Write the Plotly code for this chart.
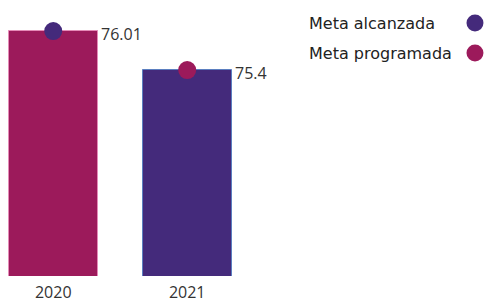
import plotly.graph_objects as go

years = ["2020", "2021"]
bar_values = [76.01, 75.4]
bar_colors = ["#9C1A5B", "#442A7B"]
bar_borders = ["#E58BB8", "#5B7FC0"]
meta_alcanzada = [76.01, None]
meta_programada = [None, 75.4]
label_texts = ["76.01", "75.4"]
legend_names = ["Meta alcanzada", "Meta programada"]
legend_colors = ["#442A7B", "#9C1A5B"]

FONT = "Open Sans"
fig = go.Figure()
fig.add_trace(go.Bar(x=[0, 1], y=bar_values, marker=dict(color=bar_colors,
                     line=dict(color=bar_borders, width=1)), width=0.664,
                     showlegend=False, hoverinfo="skip"))
fig.add_trace(go.Scatter(x=[0, 1], y=meta_alcanzada, mode="markers", name=legend_names[0],
                         marker=dict(color=legend_colors[0], size=18), showlegend=False))
fig.add_trace(go.Scatter(x=[0, 1], y=meta_programada, mode="markers", name=legend_names[1],
                         marker=dict(color=legend_colors[1], size=18), showlegend=False))

for i, (v, t) in enumerate(zip(bar_values, label_texts)):
    fig.add_annotation(x=i + 0.345, y=v, xref="x", yref="y", text=t, showarrow=False,
                       xanchor="left", yanchor="middle", yshift=-3,
                       font=dict(family=FONT, size=16, color="#333333"))

leg_y = [0.951, 0.838]
for name, col, ly in zip(legend_names, legend_colors, leg_y):
    fig.add_annotation(x=0.626, y=ly, xref="paper", yref="paper", text=name, showarrow=False,
                       xanchor="left", yanchor="middle",
                       font=dict(family="DejaVu Sans", size=16, color="#222222"))
    fig.add_shape(type="circle", xref="paper", yref="paper", x0=0.977 - 0.0177,
                  x1=0.977 + 0.0177, y0=ly - 0.032, y1=ly + 0.032,
                  fillcolor=col, line=dict(width=0))

fig.update_layout(
    width=486, height=302, margin=dict(l=7, r=0, t=10, b=26),
    paper_bgcolor="white", plot_bgcolor="white", bargap=0,
    xaxis=dict(range=[-0.345, 3.23], tickvals=[0, 1], ticktext=years, showgrid=False,
               zeroline=False, showline=False, ticks="", automargin=False,
               ticklabelstandoff=5,
               tickfont=dict(family=FONT, size=16, color="#333333")),
    yaxis=dict(range=[72.18, 76.34], visible=False, showgrid=False, zeroline=False),
)
fig.write_html("out.html", config={"displayModeBar": False},
               post_script="document.body.style.margin='0';")
